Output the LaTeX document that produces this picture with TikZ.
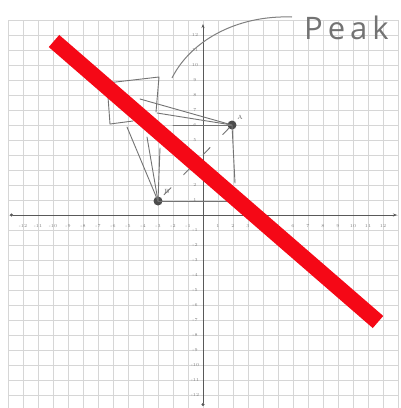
\documentclass[tikz,border=0pt]{standalone}
\usepackage{fontspec}
\usetikzlibrary{arrows.meta}
\newfontfamily\peakfont[LetterSpace=16]{Open Sans}
\begin{document}
\begin{tikzpicture}[x=1pt,y=-1pt,
  gridline/.style={draw=black!16, line width=0.5pt},
  axisline/.style={draw=black!65, line width=0.9pt},
  ticklbl/.style={font=\fontsize{4.5}{5}\selectfont, text=black!50, inner sep=0},
  sketch/.style={draw=black!55, line width=0.9pt, line cap=round, line join=round},
  ptdot/.style={circle, fill=black!70, minimum size=9pt, inner sep=0},
  ptlbl/.style={font=\fontsize{6}{6}\selectfont, text=black!60, inner sep=0},
  redbar/.style={draw={rgb,255:red,245;green,8;blue,22}, line width=16pt}
]
\useasboundingbox (0,0) rectangle (401,408);
\fill[white] (0,0) rectangle (401,408);
% graph paper
\foreach \i in {0,...,26} \draw[gridline] ({8+15*\i},20) -- ({8+15*\i},408);
\foreach \j in {0,...,26} \draw[gridline] (8,{20+15*\j}) -- (398,{20+15*\j});
% axes
\draw[axisline, {Circle[length=3pt]}-{Stealth[length=4pt]}] (10,215) -- (397,215);
\draw[axisline, {Stealth[length=4pt]}-{Circle[length=3pt]}] (203,24) -- (203,406);
% tick labels
\foreach \k in {-12,...,-1,1,2,...,12} \node[ticklbl] at ({203+15*\k},226) {\k};
\foreach \k in {-12,...,-1,1,2,...,12} \node[ticklbl] at (195,{215-15*\k}) {\k};
% points
\node[ptdot] (A) at (232,125) {};
\node[ptlbl] (Alab) at (240,117) {A};
\node[ptdot] (B) at (158,201) {};
\node[ptlbl] (Blab) at (167,191) {B};
% sketch coordinates
\coordinate (q1) at (107,83);
\coordinate (q2) at (159,77);
\coordinate (q3) at (156,112);
\coordinate (q4) at (110,124);
\coordinate (q5) at (133,121);
\coordinate (l1) at (140,99);
\coordinate (l2) at (157,113);
\coordinate (l3) at (173,125);
\coordinate (g1) at (127,127);
\coordinate (g2) at (147,137);
\coordinate (g3) at (160,148);
\coordinate (s1) at (235,183);
\coordinate (s2) at (233,201);
% flag
\draw[sketch] (q4) -- (q1) -- (q2) -- (q3);
\draw[sketch] (q4) -- (q5);
% lines to A
\draw[sketch] (l1) -- (A.center);
\draw[sketch] (l2) -- (A.center);
\draw[sketch] (l3) -- (A.center);
% legs to B
\draw[sketch] (g1) -- (B.center);
\draw[sketch] (g2) -- (B.center);
\draw[sketch] (g3) -- (B.center);
% square
\draw[sketch] (A.center) -- (s1);
\draw[sketch] (B.center) -- (s2);
\draw[sketch, dash pattern=on 10pt off 18pt, dash phase=-4pt] (B) -- (A);
% red bar
\coordinate (r1) at (54,41);
\coordinate (r2) at (378,322);
\draw[redbar] (r1) -- (r2);
% peak label
\node[font=\peakfont\fontsize{31}{31}\selectfont, text=black!55, anchor=base west, inner sep=0] (peak) at (304,39) {Peak};
\coordinate (arc0) at (172,78);
\coordinate (arc1) at (292,17);
\draw[draw=black!50, line width=1pt] (arc0) .. controls (190,42) and (235,15) .. (arc1);
\end{tikzpicture}
\end{document}
